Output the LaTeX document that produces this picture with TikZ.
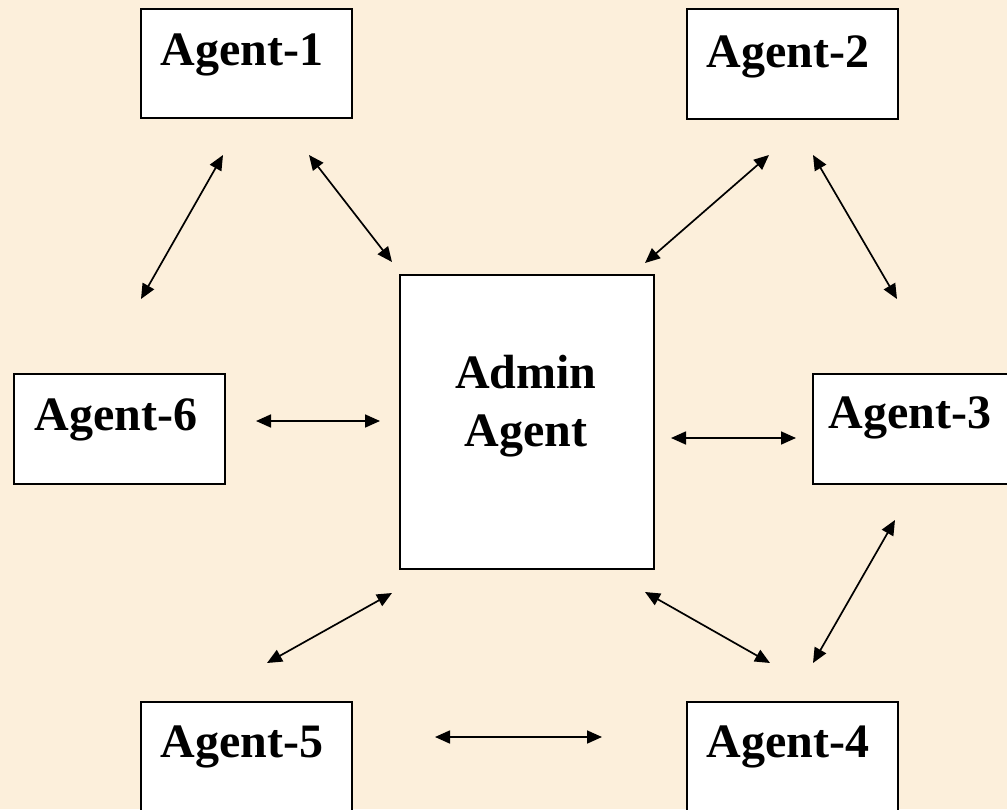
\documentclass[tikz,border=0pt]{standalone}
\usepackage{fontspec}
\setmainfont{Liberation Serif}
\usetikzlibrary{arrows.meta}
\definecolor{bgbeige}{RGB}{252,239,219}
\tikzset{
  agentbox/.style={draw=black, fill=white, line width=2pt, rectangle, inner sep=0pt, anchor=north west},
  lbl/.style={font=\bfseries\fontsize{48}{58}\selectfont, inner sep=0pt, anchor=base},
  link/.style={line width=1.7pt, {Triangle[length=15pt,width=13pt]}-{Triangle[length=15pt,width=13pt]}}
}
\begin{document}
\begin{tikzpicture}[x=1pt,y=-1pt]
\useasboundingbox (0,0) rectangle (1007,809);
\clip (0,0) rectangle (1007,809);
\fill[bgbeige] (0,0) rectangle (1007,809);
% boxes
\node[agentbox, minimum width=211pt, minimum height=109pt] (a1) at (140,8) {};
\node[agentbox, minimum width=211pt, minimum height=110pt] (a2) at (686,8) {};
\node[agentbox, minimum width=211pt, minimum height=110pt] (a6) at (13,373) {};
\node[agentbox, minimum width=215pt, minimum height=110pt] (a3) at (812,373) {};
\node[agentbox, minimum width=254pt, minimum height=294pt] (adm) at (399,274) {};
\node[agentbox, minimum width=211pt, minimum height=115pt] (a5) at (140,701) {};
\node[agentbox, minimum width=211pt, minimum height=115pt] (a4) at (686,701) {};
% labels
\node[lbl] (t1) at (242,65) {Agent-1};
\node[lbl] (t2) at (788,67) {Agent-2};
\node[lbl] (t6) at (116,430) {Agent-6};
\node[lbl] (t3) at (910,428) {Agent-3};
\node[lbl] (tadm1) at (526,388) {Admin};
\node[lbl] (tadm2) at (526,446) {Agent};
\node[lbl] (t5) at (242,757) {Agent-5};
\node[lbl] (t4) at (788,757) {Agent-4};
% arrow end points
\coordinate (p1a) at (223,155); \coordinate (p1b) at (141,299);
\coordinate (p2a) at (309,155); \coordinate (p2b) at (392,262);
\coordinate (p3a) at (769,155); \coordinate (p3b) at (645,263);
\coordinate (p4a) at (813,155); \coordinate (p4b) at (897,299);
\coordinate (p5a) at (256,421); \coordinate (p5b) at (380,421);
\coordinate (p6a) at (671,438); \coordinate (p6b) at (796,438);
\coordinate (p7a) at (392,593); \coordinate (p7b) at (267,663);
\coordinate (p8a) at (645,592); \coordinate (p8b) at (770,663);
\coordinate (p9a) at (895,520); \coordinate (p9b) at (813,663);
\coordinate (p10a) at (435,737); \coordinate (p10b) at (602,737);
\draw[link] (p1a) -- (p1b);
\draw[link] (p2a) -- (p2b);
\draw[link] (p3a) -- (p3b);
\draw[link] (p4a) -- (p4b);
\draw[link] (p5a) -- (p5b);
\draw[link] (p6a) -- (p6b);
\draw[link] (p7a) -- (p7b);
\draw[link] (p8a) -- (p8b);
\draw[link] (p9a) -- (p9b);
\draw[link] (p10a) -- (p10b);
\end{tikzpicture}
\end{document}
